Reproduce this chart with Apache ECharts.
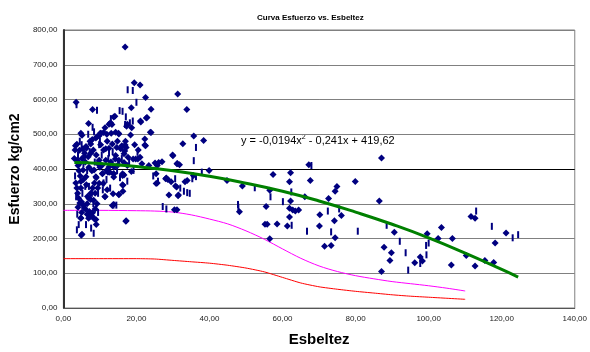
<!DOCTYPE html>
<html><head><meta charset="utf-8">
<script src="https://cdn.jsdelivr.net/npm/echarts@6/dist/echarts.min.js"></script>
<style>html,body{margin:0;padding:0;background:#fff}#c{width:590px;height:352px}</style>
</head><body><div id="c"></div>
<script>
const titulo = 'Curva Esfuerzo vs. Esbeltez';
const nombreX = 'Esbeltez';
const nombreY = 'Esfuerzo kg/cm2';

// diamond markers [esbeltez, esfuerzo]
const puntosRombo = [
 [16.9,751],[19.4,648],[21.0,642],[22.5,606],[3.5,592],[8.0,571],[24.0,572],[18.6,576],[13.8,550],[22.9,548],
 [21.1,538],[6.9,531],[11.4,519],[13.3,528],[12.9,533],[18.7,519],[17.3,523],[24.0,505],[22.3,486],[5.1,497],
 [9.2,493],[10.1,503],[11.0,505],[11.9,500],[13.1,503],[15.1,503],[18.4,498],[3.7,471],[3.3,467],
 [31.3,616],[33.8,571],[35.7,495],[32.7,473],[38.4,482],
 [29.9,440],[27.0,421],[25.1,417],[25.7,410],[31.1,415],[31.8,412],[39.9,396],[28.2,374],[28.6,370],[25.7,360],
 [29.5,363],[33.9,367],[33.3,363],[31.0,348],[28.9,325],[31.5,325],[44.8,367],[49.0,351],[30.4,283],[31.1,283],
 [48.2,277],[55.2,241],[55.8,241],
 [67.2,412],[57.4,384],[62.2,389],[61.9,363],[67.6,367],[79.9,364],[74.9,350],[74.4,336],[56.5,339],[66.1,320],
 [62.2,308],[72.6,315],[55.5,292],[61.9,287],[62.8,282],[63.5,279],[64.4,282],[76.1,266],[70.2,268],[61.9,262],
 [74.2,251],[58.5,242],[61.3,236],[70.1,236],[56.5,199],[74.4,202],[71.5,178],[73.3,180],
 [87.1,432],[86.5,308],[111.6,263],[112.7,258],[90.6,218],[99.6,214],[103.5,232],[102.6,200],[106.5,200],[121.2,216],
 [118.2,187],[87.8,175],[89.8,159],[97.7,147],[89.4,137],[96.2,130],[87.1,105],[106.2,124],[112.7,121],[110.3,151],
 [115.4,137],[117.8,131],[98.3,135],
 [4.9,209],[17.2,251],[4.8,258],[6.9,258],[8.5,256],[11.4,320],[15.2,327],[16.3,336],[16.3,353],[16.2,381],
 [13.7,386],[12.2,391],[22.3,469],[26.1,419],[19.8,429],[21.0,434],[16.9,469],[16.0,467],[14.6,462],[14.2,429],
 [25.4,358],[25.4,386],[18.6,393],[13.8,377],[10.9,358],[13.8,298],[28.0,372],[30.7,351],[31.4,323],[35.6,381],
 [4.8,503],[3.0,430],[5.1,430],[5.7,435],[4.4,454],[5.3,458],[6.2,465],[7.5,472],[8.9,489],[9.8,496],[10.3,503],
 [7.3,480],[7.9,485],[4.4,416],[5.4,397],[6.2,378],[4.8,364],[3.9,330],[4.2,316],[4.5,302],[5.7,288],[7.1,278],
 [8.0,274],[7.5,264],[4.8,259],[5.1,212],[8.9,255],[6.6,321],[7.5,312],[8.7,330],[9.4,345],[9.8,359],[8.9,378],
 [8.4,397],[9.4,416],[10.7,387],[11.4,321],[11.6,425],[12.5,529],[14.3,506],[15.2,501],[17.5,529],[13.4,472],
 [15.7,458],[16.6,444],[15.2,425],[13.9,406],[16.6,383],[15.2,326],[13.4,295],[17.1,250],[14.3,439],[11.6,458],
 [12.5,406],[14.1,552],[21.2,535],[22.7,547],[23.8,506],[22.5,467],[20.4,429],[23.4,410],[30.0,438],[31.2,416],
 [19.1,429],[17.7,434],[17.2,462],[16.8,452],[16.6,419],[16.2,386],[15.0,412],[13.8,386],[12.7,391],[11.8,396],
 [10.7,386],[16.2,355],[13.6,329],
 [3.2,455],[3.8,425],[4.0,410],[4.3,395],[4.6,380],[3.4,360],[3.7,345],[5.0,305],[5.5,295],[6.0,285],[6.5,300],
 [7.0,315],[7.5,330],[8.0,345],[8.5,360],[9.0,375],[10.0,405],[6.0,420],[6.8,435],[7.5,445],[8.2,455],[9.0,440],
 [9.8,425],[10.5,410],[5.8,445],[6.3,460],[7.8,395],[7.0,405],[5.5,370],[6.3,355],[8.3,310],[9.2,300],[8.7,285],
 [7.8,265],[9.0,240],[6.5,270],[5.0,275],[4.0,290],[4.8,345],[10.2,470],[11.0,455],[12.0,480],[12.5,460],[13.0,420],
 [14.8,480],[17.0,480],[19.5,470],[20.5,455],[21.5,415],[17.5,410],[12.0,340]
];

// vertical dash markers [esbeltez, esfuerzo]
const puntosRaya = [
 [17.6,628],[19.0,626],[20.0,592],[3.6,585],[9.2,569],[15.4,568],[16.2,566],[13.0,545],[17.1,550],[16.9,528],
 [18.2,533],[19.0,538],[8.4,507],[36.3,462],[35.7,424],[37.9,391],[30.6,372],[35.3,372],[36.3,378],[32.0,345],
 [33.0,336],[33.9,332],[27.2,292],[28.2,285],[47.8,298],[47.9,290],[52.4,346],[67.9,410],[56.7,320],[62.4,334],
 [60.1,306],[75.5,285],[72.4,279],[62.5,238],[66.7,221],[73.3,219],[80.6,221],[113.0,279],[88.5,238],[92.1,192],
 [100.0,187],[99.3,180],[117.3,235],[124.5,211],[123.0,202],[93.7,159],[99.4,153],[97.7,128],[94.4,109],[13.7,296],
 [14.5,296],[12.5,446],[24.6,380],[19.2,396],[34.6,330],[25.9,365],
 [4.0,440],[5.5,415],[6.5,395],[7.0,350],[7.8,330],[8.2,300],[9.0,290],[9.5,275],[3.8,270],[4.2,240],[6.0,350],
 [8.6,420],[10.5,440],[11.8,370],[12.8,345],[3.2,380],[5.0,470],[7.2,450],[9.8,470],[10.8,340],[4.5,480],[6.8,500],
 [8.0,520],[10.0,480],[11.0,360],[3.5,320],[5.2,330],[6.2,240],[7.6,230],[8.3,215],[3.7,225],[9.5,330],[12.3,430],
 [13.5,450],[14.7,395],[16.0,430],[18.0,420],[20.3,448],[17.5,365],[15.5,375]
];

// lower reference curves
const curvaX = [0,10,20,25,30,35,40,45,50,55,60,65,70,75,80,85,90,95,100,105,110];
const curvaMagenta = [281,281,280,279,276,268,256,242,222,198,170,143,121,105,93,84,76,70,64,57,49];
const curvaRoja = [142,142,142,141,137,133,129,123,115,104,88,72,61,54,48,43,38,34,31,28,25];

// polynomial trend line
const tendX = [3,10,20,30,40,50,60,70,80,90,100,110,120,124.5];
const tendY = [419,416,407,395,379,359,336,308,276,241,202,158,111,89];

const ecuacion = 'y = -0,0194x{s|2} - 0,241x + 419,62';

const zip = (xs, ys) => xs.map((x, i) => [x, ys[i]]);
const fmt = v => v.toFixed(2).replace('.', ',');
const FONT = 'Liberation Sans, Arial, sans-serif';
const navy = '#000080';

const splitColors = ['#808080','#808080','#808080','#808080','#000000','#808080','#808080','#808080','#808080'];

const chart = echarts.init(document.getElementById('c'), null, {renderer: 'canvas'});
chart.setOption({
  animation: false,
  backgroundColor: '#ffffff',
  textStyle: {fontFamily: FONT},
  title: {
    text: titulo, left: 252, top: 9,
    textStyle: {fontSize: 8, fontWeight: 'bold', color: '#000', fontFamily: FONT}
  },
  grid: {left: 63, right: 12, top: 30, bottom: 41, show: true, borderColor: '#808080', borderWidth: 1, containLabel: false},
  xAxis: {
    type: 'value', min: 0, max: 140, interval: 20,
    name: nombreX, nameLocation: 'middle', nameGap: 24,
    nameTextStyle: {fontSize: 15, fontWeight: 'bold', color: '#000', fontFamily: FONT},
    axisLine: {show: true, lineStyle: {color: '#555', width: 1}},
    axisTick: {show: false},
    splitLine: {show: false},
    axisLabel: {formatter: fmt, fontSize: 8, color: '#222', margin: 7, fontFamily: FONT}
  },
  yAxis: {
    type: 'value', min: 0, max: 800, interval: 100,
    name: nombreY, nameLocation: 'middle', nameGap: 40,
    nameTextStyle: {fontSize: 14, fontWeight: 'bold', color: '#000', fontFamily: FONT},
    axisLine: {show: true, lineStyle: {color: '#333', width: 2}},
    axisTick: {show: false},
    splitLine: {show: true, lineStyle: {color: splitColors, width: 1}},
    axisLabel: {formatter: fmt, fontSize: 8, color: '#222', margin: 6, fontFamily: FONT}
  },
  graphic: [{
    type: 'text', left: 241, top: 134,
    style: {
      text: ecuacion, fill: '#000', font: '11px ' + FONT,
      rich: {s: {fontSize: 7, verticalAlign: 'top', padding: [0,0,6,0], fill: '#000', fontFamily: FONT}}
    }
  }],
  series: [
    {type: 'line', data: zip(curvaX, curvaMagenta), smooth: 0.3, showSymbol: false, lineStyle: {color: '#ff00ff', width: 1}, z: 2},
    {type: 'line', data: zip(curvaX, curvaRoja), smooth: 0.2, showSymbol: false, lineStyle: {color: '#ff0000', width: 1}, z: 2},
    {type: 'scatter', data: puntosRaya, symbol: 'rect', symbolSize: [2, 7], itemStyle: {color: navy, opacity: 1}, z: 3},
    {type: 'scatter', data: puntosRombo, symbol: 'diamond', symbolSize: 7, itemStyle: {color: navy, opacity: 1}, z: 3},
    {type: 'line', data: zip(tendX, tendY), smooth: true, showSymbol: false, lineStyle: {color: '#008000', width: 3}, z: 4}
  ]
});
</script></body></html>
